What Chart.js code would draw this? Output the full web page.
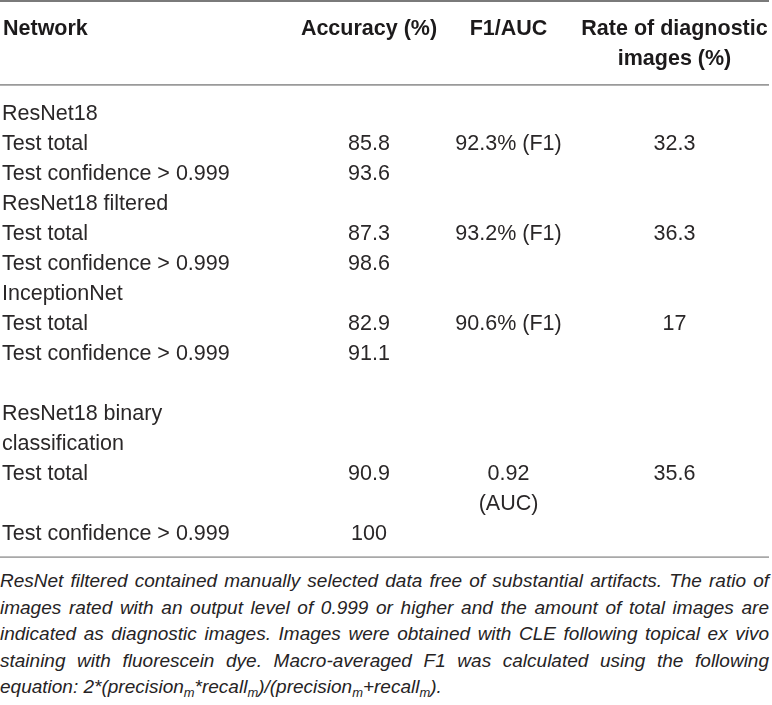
<!DOCTYPE html>
<html>
<head>
<meta charset="utf-8">
<title>Network results</title>
<script src="https://cdn.jsdelivr.net/npm/chart.js@4.4.1/dist/chart.umd.min.js"></script>
<style>
  html, body { margin: 0; padding: 0; background: #fff; }
  #wrap { position: relative; width: 772px; height: 705px; overflow: hidden; }
  #table { display: block; }
  .note {
    position: absolute; left: 0; top: 568px; width: 769px;
    font: italic 19px "Liberation Sans", Arial, Helvetica, sans-serif;
    line-height: 26.5px; color: #262324;
  }
  .note div { text-align: justify; text-align-last: justify; }
  .note div.last { text-align: left; text-align-last: left; }
  .note sub { font-size: 0.68em; vertical-align: -0.28em; line-height: 0; }
</style>
</head>
<body>
<div id="wrap">
  <canvas id="table" width="772" height="562"></canvas>
  <div class="note">
    <div>ResNet filtered contained manually selected data free of substantial artifacts. The ratio of</div>
    <div>images rated with an output level of 0.999 or higher and the amount of total images are</div>
    <div>indicated as diagnostic images. Images were obtained with CLE following topical ex vivo</div>
    <div>staining with fluorescein dye. Macro-averaged F1 was calculated using the following</div>
    <div class="last">equation: 2*(precision<sub>m</sub>*recall<sub>m</sub>)/(precision<sub>m</sub>+recall<sub>m</sub>).</div>
  </div>
</div>
<script>
// ===== DATA =====
const headers = ['Network', 'Accuracy (%)', 'F1/AUC', 'Rate of diagnostic\nimages (%)'];
const networks = [
  'ResNet18', 'Test total', 'Test confidence > 0.999',
  'ResNet18 filtered', 'Test total', 'Test confidence > 0.999',
  'InceptionNet', 'Test total', 'Test confidence > 0.999',
  'ResNet18 binary\nclassification', 'Test total', 'Test confidence > 0.999'
];
const accuracy = [null, 85.8, 93.6, null, 87.3, 98.6, null, 82.9, 91.1, null, 90.9, 100];
const f1auc = [null, '92.3% (F1)', null, null, '93.2% (F1)', null, null, '90.6% (F1)', null, null, '0.92\n(AUC)', null];
const diagnosticRate = [null, 32.3, null, null, 36.3, null, null, 17, null, null, 35.6, null];

// ===== LAYOUT =====
const LINE = 30;                       // px per text line
const colX = [2, 369, 508.5, 674.5];   // column anchors (x scale = px)
const colAlign = ['left', 'center', 'center', 'center'];
const blankLinesBefore = { 9: 1 };     // empty line before the binary block
const headerLine = -2.83;              // first header baseline, in line units
const rules = [
  { y: -3.97, color: '#7a7a7a', width: 2 },
  { y: -1.17, color: '#9a9a9a', width: 1.6 },
  { y: 14.57, color: '#a8a8a8', width: 1.6 }
];
const FONT = '"Liberation Sans", Arial, Helvetica, sans-serif';
const canvas = document.getElementById('table');

// ===== BUILD CELLS =====
const columns = [networks, accuracy, f1auc, diagnosticRate];
const cellSets = columns.map((col, c) => ({
  cellText: true,
  font: '21.5px ' + FONT,
  color: '#2a2728',
  align: colAlign[c],
  data: [],
  pointRadius: 0
}));

let cursor = 0;
networks.forEach((_, r) => {
  cursor += blankLinesBefore[r] || 0;
  let rowLines = 1;
  columns.forEach((col, c) => {
    const v = col[r];
    if (v === null || v === undefined) return;
    const lines = String(v).split('\n');
    lines.forEach((t, k) => cellSets[c].data.push({ x: colX[c], y: cursor + k, text: t }));
    rowLines = Math.max(rowLines, lines.length);
  });
  cursor += rowLines;
});

const headerSet = {
  cellText: true,
  font: 'bold 21.5px ' + FONT,
  color: '#1c1a1b',
  align: null,
  aligns: [],
  data: [],
  pointRadius: 0
};
headers.forEach((h, c) => {
  h.split('\n').forEach((t, k) => {
    headerSet.data.push({ x: c === 0 ? colX[0] + 1 : colX[c], y: headerLine + k, text: t });
    headerSet.aligns.push(colAlign[c]);
  });
});

const ruleSets = rules.map(rule => ({
  data: [{ x: 0, y: rule.y }, { x: 769, y: rule.y }],
  showLine: true,
  borderColor: rule.color,
  borderWidth: rule.width,
  pointRadius: 0,
  clip: false
}));

// ===== DRAW TEXT AT SCALE POSITIONS =====
const cellTextPlugin = {
  id: 'cellText',
  afterDatasetsDraw(chart) {
    const ctx = chart.ctx;
    chart.data.datasets.forEach((ds, i) => {
      if (!ds.cellText) return;
      const meta = chart.getDatasetMeta(i);
      ctx.save();
      ctx.font = ds.font;
      ctx.fillStyle = ds.color;
      ctx.textBaseline = 'alphabetic';
      meta.data.forEach((el, j) => {
        ctx.textAlign = ds.align || ds.aligns[j];
        ctx.fillText(ds.data[j].text, el.x, el.y);
      });
      ctx.restore();
    });
  }
};

new Chart(canvas, {
  type: 'scatter',
  data: { datasets: [...ruleSets, headerSet, ...cellSets] },
  options: {
    responsive: false,
    animation: false,
    events: [],
    layout: { padding: 0 },
    plugins: { legend: { display: false }, tooltip: { enabled: false } },
    scales: {
      x: { type: 'linear', min: 0, max: 772, display: false },
      y: { type: 'linear', reverse: true, min: -4, max: 562 / LINE - 4, display: false }
    }
  },
  plugins: [cellTextPlugin]
});
</script>
</body>
</html>
